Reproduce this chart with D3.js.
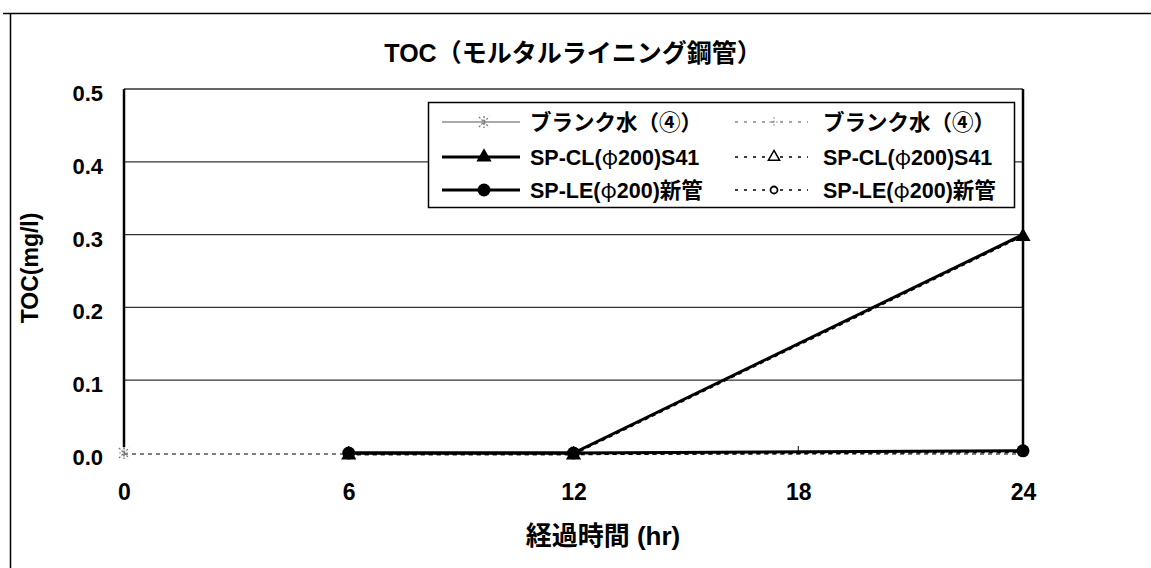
<!DOCTYPE html>
<html><head><meta charset="utf-8">
<script src="https://cdn.jsdelivr.net/npm/d3@7"></script>
<style>
body{margin:0;background:#fff;}
svg{display:block;}
text{font-family:"Liberation Sans","Noto Sans CJK JP",Arial,sans-serif;font-weight:bold;fill:#000;}
</style></head>
<body><svg id="c" width="1151" height="568"></svg>
<script>
const title = "TOC（モルタルライニング鋼管）";
const xTitle = "経過時間 (hr)";
const yTitle = "TOC(mg/l)";
const xTicks = [0, 6, 12, 18, 24];
const yTicks = [0.0, 0.1, 0.2, 0.3, 0.4, 0.5];

// series values
const blankSolidX = [0];
const blankSolidY = [0.0];
const blankDashX = [0, 6, 12, 24];
const blankDashY = [0.0, 0.0, 0.0, 0.0];
const clX = [6, 12, 24];
const clY = [0.0, 0.0, 0.30];
const leX = [6, 12, 24];
const leY = [0.0, 0.0, 0.003];
const seriesNames = ["ブランク水（④）","SP-CL(φ200)S41","SP-LE(φ200)新管","ブランク水（④）","SP-CL(φ200)S41","SP-LE(φ200)新管"];

const svg = d3.select("#c");
const L = 124, R = 1023, T = 89, B = 453;
const x = d3.scaleLinear().domain([0, 24]).range([L, R]);
const y = d3.scaleLinear().domain([0, 0.5]).range([B, T]);

// outer border
svg.append("path").attr("d", `M3,13.5 H1151 M10.5,13 V568`).attr("stroke","#000").attr("stroke-width",1.5).attr("fill","none");

// title
svg.append("text").attr("x", 573).attr("y", 62).attr("text-anchor","middle").attr("font-size", 25).text(title);

// gridlines
svg.append("g").selectAll("line").data(yTicks.filter(d => d > 0)).join("line")
  .attr("x1", L).attr("x2", R).attr("y1", d => y(d)).attr("y2", d => y(d))
  .attr("stroke", "#333").attr("stroke-width", 1.3);

// y axis
const ya = d3.axisLeft(y).tickValues(yTicks).tickFormat(d3.format(".1f")).tickSize(0).tickPadding(21);
const gy = svg.append("g").attr("transform", `translate(${L},0)`).call(ya);
gy.select(".domain").remove();
gy.selectAll("text").attr("font-size", 22).attr("dy", "0.52em").attr("font-family", '"Liberation Sans",Arial,sans-serif').attr("font-weight","bold");
svg.append("line").attr("x1", L).attr("x2", L).attr("y1", T).attr("y2", B - 6).attr("stroke","#000").attr("stroke-width",2.5);
svg.append("line").attr("x1", R).attr("x2", R).attr("y1", T).attr("y2", B).attr("stroke","#000").attr("stroke-width",2.5);

// x axis
const xa = d3.axisBottom(x).tickValues(xTicks).tickFormat(d3.format("d")).tickSize(0).tickPadding(31);
const gx = svg.append("g").attr("transform", `translate(0,${B})`).call(xa);
gx.select(".domain").remove();
gx.selectAll("text").attr("font-size", 23).attr("font-family", '"Liberation Sans",Arial,sans-serif').attr("font-weight","bold");
svg.append("g").selectAll("line").data(xTicks.slice(1, -1)).join("line")
  .attr("x1", d => x(d)).attr("x2", d => x(d)).attr("y1", B).attr("y2", B - 7)
  .attr("stroke", "#000").attr("stroke-width", 1);

// axis titles
svg.append("text").attr("x", 603).attr("y", 545).attr("text-anchor","middle").attr("font-size", 26).text(xTitle);
svg.append("text").attr("transform", "translate(38,268) rotate(-90)").attr("text-anchor","middle").attr("font-size", 23).text(yTitle);

const line = d3.line().x(d => x(d[0])).y(d => y(d[1]));
const zip = (a, b) => a.map((v, i) => [v, b[i]]);

// dashed series
const dashStyle = "4,4";
svg.append("path").datum(zip(blankDashX, blankDashY)).attr("d", line).attr("fill","none").attr("stroke","#000").attr("stroke-width",1.2).attr("stroke-dasharray", dashStyle)
  .attr("transform","translate(0,1)");
svg.append("path").datum(zip(clX, clY)).attr("d", line).attr("fill","none").attr("stroke","#000").attr("stroke-width",1.5).attr("stroke-dasharray", dashStyle).attr("transform","translate(0,1.5)");
svg.append("path").datum(zip(leX, leY)).attr("d", line).attr("fill","none").attr("stroke","#000").attr("stroke-width",1.5).attr("stroke-dasharray", dashStyle).attr("transform","translate(0,1.5)");

// solid series
svg.append("path").datum(zip(clX, clY)).attr("d", line).attr("fill","none").attr("stroke","#000").attr("stroke-width",3);
svg.append("path").datum(zip(leX, leY)).attr("d", line).attr("fill","none").attr("stroke","#000").attr("stroke-width",3);

// markers
function star(g, cx, cy, color) {
  const s = 5;
  g.append("path").attr("d", `M${cx-s},${cy-s}L${cx+s},${cy+s}M${cx-s},${cy+s}L${cx+s},${cy-s}M${cx},${cy-s-1}V${cy+s+1}`)
    .attr("stroke", color).attr("stroke-width", 1.3).attr("stroke-dasharray","2,1.5");
}
function plus(g, cx, cy, color) {
  const s = 5;
  g.append("path").attr("d", `M${cx-s},${cy}H${cx+s}M${cx},${cy-s}V${cy+s}`).attr("stroke", color).attr("stroke-width", 1).attr("stroke-dasharray","2,1.5");
}
const tri = d3.symbol().type(d3.symbolTriangle).size(100);
const triSmall = d3.symbol().type(d3.symbolTriangle).size(55);
const mk = svg.append("g");
zip(blankDashX, blankDashY).forEach(d => plus(mk, x(d[0]), y(d[1]), "#999"));
zip(blankSolidX, blankSolidY).forEach(d => star(mk, x(d[0]), y(d[1]), "#777"));
mk.selectAll(".tri").data(zip(clX, clY)).join("path").attr("class","tri")
  .attr("transform", d => `translate(${x(d[0])},${y(d[1]) + 2})`).attr("d", tri).attr("fill","#000");
mk.selectAll(".cir").data(zip(leX, leY)).join("circle").attr("class","cir")
  .attr("cx", d => x(d[0])).attr("cy", d => y(d[1])).attr("r", 6.5).attr("fill","#000");

// legend
const lg = svg.append("g");
lg.append("rect").attr("x", 428.5).attr("y", 102.5).attr("width", 586).attr("height", 105).attr("fill","#fff").attr("stroke","#000").attr("stroke-width",1.5);
const rowsY = [122, 157, 190];
const cols = [{x0: 442, x1: 520, mx: 484, tx: 530}, {x0: 735, x1: 808, mx: 774, tx: 823}];
for (let i = 0; i < 6; i++) {
  const c = cols[Math.floor(i / 3)], r = rowsY[i % 3], dashed = i >= 3;
  const mx = c.mx;
  lg.append("line").attr("x1", c.x0).attr("x2", c.x1).attr("y1", r).attr("y2", r)
    .attr("stroke", (i === 0) ? "#555" : (i === 3 ? "#888" : "#000"))
    .attr("stroke-width", dashed ? 1.5 : (i === 0 ? 1 : 3))
    .attr("stroke-dasharray", dashed ? "3,6" : null);
  const kind = i % 3;
  if (i === 0) star(lg, mx, r, "#777");
  else if (i === 3) plus(lg, mx, r, "#999");
  else if (kind === 1) {
    if (!dashed) lg.append("path").attr("transform", `translate(${mx},${r})`).attr("d", tri).attr("fill","#000");
    else lg.append("path").attr("transform", `translate(${mx},${r})`).attr("d", triSmall).attr("fill","#fff").attr("stroke","#000").attr("stroke-width",1.5);
  } else {
    if (!dashed) lg.append("circle").attr("cx", mx).attr("cy", r).attr("r", 6.5).attr("fill","#000");
    else lg.append("circle").attr("cx", mx).attr("cy", r).attr("r", 3.5).attr("fill","#fff").attr("stroke","#000").attr("stroke-width",1.8);
  }
  const t = lg.append("text").attr("x", c.tx).attr("y", r + 8).attr("font-size", 21.5);
  const parts = seriesNames[i].split("φ");
  t.append("tspan").text(parts[0]);
  if (parts.length > 1) {
    t.append("tspan").attr("font-family", '"Noto Sans CJK JP",sans-serif').attr("font-weight", "normal").text("φ");
    t.append("tspan").text(parts[1]);
  }
}
</script></body></html>
